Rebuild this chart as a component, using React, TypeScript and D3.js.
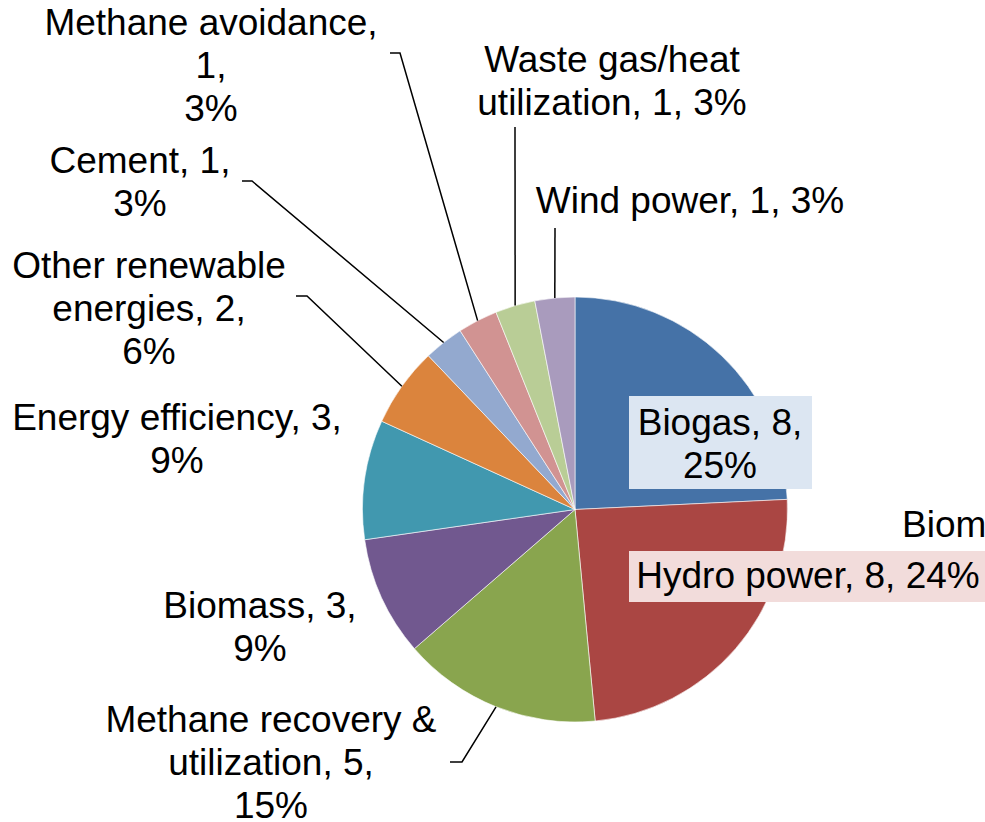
import React, { useRef, useEffect } from 'react';
import * as d3 from 'd3';

// data
const categories = [
  'Biogas',
  'Hydro power',
  'Methane recovery & utilization',
  'Biomass',
  'Energy efficiency',
  'Other renewable energies',
  'Cement',
  'Methane avoidance',
  'Waste gas/heat utilization',
  'Wind power',
];
const values = [8, 8, 5, 3, 3, 2, 1, 1, 1, 1];
const percentLabels = ['25%', '24%', '15%', '9%', '9%', '6%', '3%', '3%', '3%', '3%'];

const colors = [
  '#4572A7', '#AA4643', '#89A54E', '#71588F', '#4198AF',
  '#DB843D', '#93A9CF', '#D19392', '#B9CD96', '#A99BBD',
];

// how each label is broken into lines and where it sits (layout only)
const labelLayout = [
  { lines: ['Biogas, 8,', '25%'], x: 720, y: 435, box: [629, 396, 183, 93], boxFill: '#DCE6F2' },
  { lines: ['Hydro power, 8, 24%'], x: 808, y: 588, box: [629, 551, 356, 51], boxFill: '#F2DCDB' },
  { lines: ['Methane recovery &', 'utilization, 5,', '15%'], x: 271, y: 732, leader: [450, 762, 462] },
  { lines: ['Biomass, 3,', '9%'], x: 260, y: 618 },
  { lines: ['Energy efficiency, 3,', '9%'], x: 177, y: 430 },
  { lines: ['Other renewable', 'energies, 2,', '6%'], x: 149, y: 278, leader: [296, 296, 307] },
  { lines: ['Cement, 1,', '3%'], x: 140, y: 173, leader: [242, 181, 252] },
  { lines: ['Methane avoidance,', '1,', '3%'], x: 211, y: 35, leader: [390, 53, 400] },
  { lines: ['Waste gas/heat', 'utilization, 1, 3%'], x: 612, y: 72, leader: [515, 127, 515] },
  { lines: ['Wind power, 1, 3%'], x: 690, y: 213, leader: [555, 228, 555] },
];

const width = 985;
const height = 822;
const cx = 575;
const cy = 509.5;
const radius = 212.5;
const lineHeight = 43;
const fontSize = 37;
const font = '"Liberation Sans", Arial, sans-serif';

function PieChart() {
  const svgRef = useRef<SVGSVGElement>(null);

  useEffect(() => {
    const svg = d3.select(svgRef.current);
    svg.selectAll('*').remove();

    const data = categories.map((name, i) => ({ name, value: values[i], pct: percentLabels[i], i }));
    const pie = d3.pie<any>().sort(null).value(d => d.value);
    const arcs = pie(data);
    const arc = d3.arc<any>().innerRadius(0).outerRadius(radius);

    const g = svg.append('g').attr('transform', `translate(${cx},${cy})`);

    // slices
    g.selectAll('path.slice')
      .data(arcs)
      .join('path')
      .attr('class', 'slice')
      .attr('d', arc)
      .attr('fill', d => colors[d.index])
      .attr('stroke', '#fff')
      .attr('stroke-width', 0.6);

    // leader lines: label elbow -> middle of the slice's outer edge
    arcs.forEach(a => {
      const lay = labelLayout[a.index];
      if (!lay.leader) return;
      const mid = (a.startAngle + a.endAngle) / 2;
      const ex = cx + radius * Math.sin(mid);
      const ey = cy - radius * Math.cos(mid);
      const [x0, y0, x1] = lay.leader;
      svg
        .append('path')
        .attr('d', d3.line()([[x0, y0], [x1, y0], [ex, ey]]))
        .attr('fill', 'none')
        .attr('stroke', '#000')
        .attr('stroke-width', 1.5);
    });

    // label boxes
    labelLayout.forEach(lay => {
      if (!lay.box) return;
      const [bx, by, bw, bh] = lay.box;
      svg
        .append('rect')
        .attr('x', bx)
        .attr('y', by)
        .attr('width', bw)
        .attr('height', bh)
        .attr('fill', lay.boxFill);
    });

    // label text
    labelLayout.forEach(lay => {
      const t = svg
        .append('text')
        .attr('text-anchor', 'middle')
        .attr('font-family', font)
        .attr('font-size', fontSize)
        .attr('fill', '#000');
      lay.lines.forEach((line, k) => {
        t.append('tspan').attr('x', lay.x).attr('y', lay.y + k * lineHeight).text(line);
      });
    });

    // clipped overlapping label at the right edge
    svg
      .append('text')
      .attr('x', 902)
      .attr('y', 537)
      .attr('font-family', font)
      .attr('font-size', fontSize)
      .attr('fill', '#000')
      .text('Biom');
  }, []);

  return <svg ref={svgRef} width={width} height={height} style={{ display: 'block' }}></svg>;
}

export default function App() {
  return (
    <div style={{ position: 'absolute', left: 0, top: 0, width, height, background: '#fff', overflow: 'hidden' }}>
      <PieChart />
    </div>
  );
}
